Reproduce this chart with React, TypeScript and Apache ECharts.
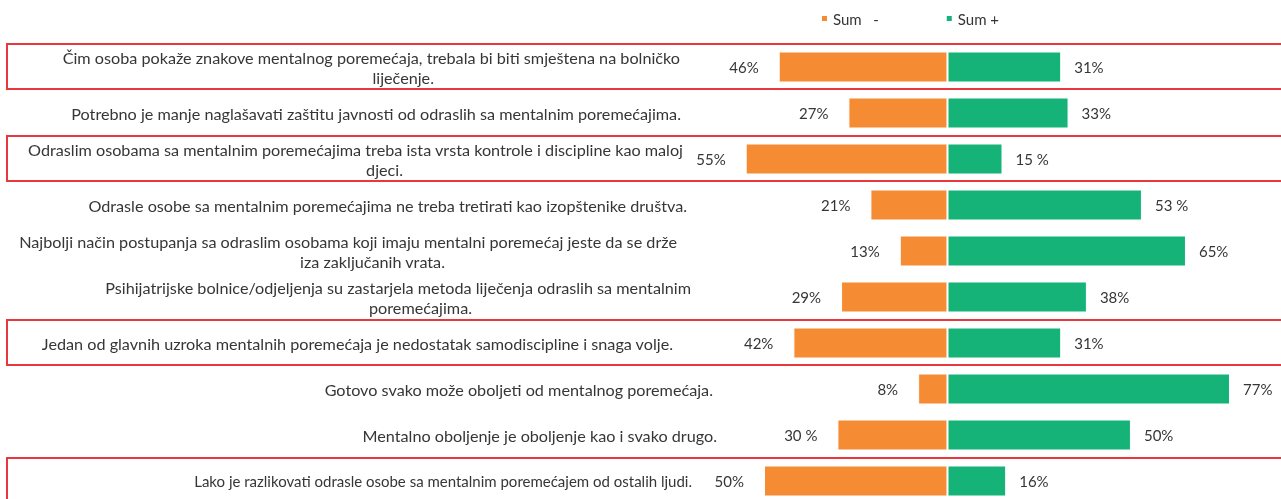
import React, { useEffect, useRef } from "react";
import * as echarts from "echarts";

const categories = [
  "Čim osoba pokaže znakove mentalnog poremećaja, trebala bi biti smještena na bolničko\nliječenje.",
  "Potrebno je manje naglašavati zaštitu javnosti od odraslih sa mentalnim poremećajima.",
  "Odraslim osobama sa mentalnim poremećajima treba ista vrsta kontrole i discipline kao maloj\ndjeci.",
  "Odrasle osobe sa mentalnim poremećajima ne treba tretirati kao izopštenike društva.",
  "Najbolji način postupanja sa odraslim osobama koji imaju mentalni poremećaj jeste da se drže\niza zaključanih vrata.",
  "Psihijatrijske bolnice/odjeljenja su zastarjela metoda liječenja odraslih sa mentalnim\nporemećajima.",
  "Jedan od glavnih uzroka mentalnih poremećaja je nedostatak samodiscipline i snaga volje.",
  "Gotovo svako može oboljeti od mentalnog poremećaja.",
  "Mentalno oboljenje je oboljenje kao i svako drugo.",
  "Lako je razlikovati odrasle osobe sa mentalnim poremećajem od ostalih ljudi.",
];

const sumMinus = [46, 27, 55, 21, 13, 29, 42, 8, 30, 50];
const sumPlus = [31, 33, 15, 53, 65, 38, 31, 77, 50, 16];

const minusLabels = ["46%", "27%", "55%", "21%", "13%", "29%", "42%", "8%", "30 %", "50%"];
const plusLabels = ["31%", "33%", "15 %", "53 %", "65%", "38%", "31%", "77%", "50%", "16%"];

const seriesNames = ["Sum   -", "Sum +"];

const highlightedRows = [0, 2, 6, 9];

// layout: right padding (px) of each label line, and font size per row
const linePad = [[37, 283], [36], [34, 314], [30], [40, 272], [26, 245], [44], [4], [0], [25]];
const rowFontSize = [16.2, 16.2, 16.2, 16.2, 16.2, 16.2, 16.2, 16.2, 16.2, 15];

const FONT = "Lato";
const TEXT = "#363636";
const ORANGE = "#F58C33";
const GREEN = "#15B378";
const RED = "#E8383D";

export default function App() {
  const ref = useRef<HTMLDivElement>(null);

  useEffect(() => {
    if (!ref.current) return;
    const chart = echarts.init(ref.current, undefined, { renderer: "svg" });

    const rich: Record<string, any> = {};
    categories.forEach((c, i) => {
      c.split("\n").forEach((_, j) => {
        rich[`r${i}_${j}`] = {
          padding: [0, (linePad[i] && linePad[i][j]) || 0, 0, 0],
          lineHeight: 20,
          fontSize: rowFontSize[i],
          fontFamily: FONT,
          color: TEXT,
        };
      });
    });

    chart.setOption({
      animation: false,
      legend: {
        data: seriesNames,
        left: 815,
        top: 6,
        itemGap: 66,
        itemWidth: 7,
        itemHeight: 7,
        icon: "rect",
        textStyle: { fontFamily: FONT, fontSize: 15, color: TEXT },
      },
      grid: { left: 720, top: 44, width: 521, height: 460, containLabel: false },
      xAxis: {
        type: "value",
        min: -62,
        max: 80,
        show: false,
        splitLine: { show: false },
      },
      yAxis: {
        type: "category",
        data: categories,
        inverse: true,
        axisLine: { show: false },
        axisTick: { show: false },
        splitLine: { show: false },
        axisLabel: {
          interval: 0,
          margin: 3,
          align: "right",
          formatter: (value: string) => {
            const i = categories.indexOf(value);
            return value
              .split("\n")
              .map((l, j) => `{r${i}_${j}|${l}}`)
              .join("\n");
          },
          rich,
        },
      },
      series: [
        {
          name: seriesNames[0],
          type: "bar",
          stack: "s",
          barWidth: 31,
          data: sumMinus.map((v) => -v),
          itemStyle: { color: ORANGE, borderColor: "#ffffff", borderWidth: 1 },
          label: {
            show: true,
            position: "left",
            distance: 20,
            fontFamily: FONT,
            fontSize: 15,
            color: TEXT,
            formatter: (p: any) => minusLabels[p.dataIndex],
          },
        },
        {
          name: seriesNames[1],
          type: "bar",
          stack: "s",
          barWidth: 31,
          data: sumPlus,
          itemStyle: { color: GREEN, borderColor: "#ffffff", borderWidth: 1 },
          label: {
            show: true,
            position: "right",
            distance: 13,
            fontFamily: FONT,
            fontSize: 15,
            color: TEXT,
            formatter: (p: any) => plusLabels[p.dataIndex],
          },
        },
      ],
    });

    const boxes = highlightedRows.map((r) => {
      const cy = chart.convertToPixel({ yAxisIndex: 0 }, r) as number;
      return {
        type: "rect",
        silent: true,
        z: 10,
        shape: { x: 7, y: cy - 23, width: 1300, height: 45 },
        style: { fill: "none", stroke: RED, lineWidth: 2 },
      };
    });
    chart.setOption({ graphic: boxes });

    return () => chart.dispose();
  }, []);

  return (
    <div
      ref={ref}
      style={{ position: "fixed", left: 0, top: 0, width: 1281, height: 510 }}
    />
  );
}
